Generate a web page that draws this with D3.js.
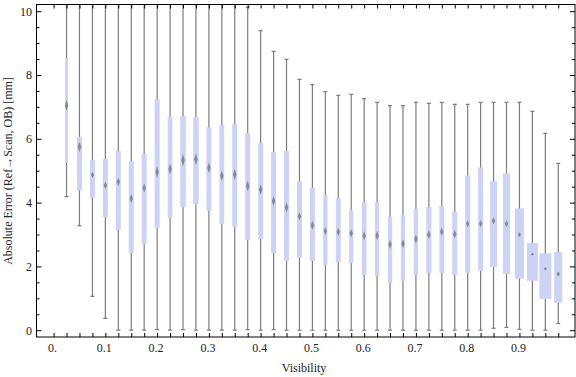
<!DOCTYPE html>
<html>
<head>
<meta charset="utf-8">
<script src="https://cdn.jsdelivr.net/npm/d3@7"></script>
<style>
  body { margin: 0; background: #fff; }
  svg { display: block; }
  .axis text { font-family: "Liberation Serif", "Times New Roman", serif; font-size: 12px; fill: #222; }
  .axis line { stroke: #000; }
  .axis-labels { font-family: "Liberation Serif", "Times New Roman", serif; font-size: 12px; fill: #222; }
</style>
</head>
<body>
<svg width="576" height="377"></svg>
<script>
// data
const visibility = [0.025, 0.05, 0.075, 0.1, 0.125, 0.15, 0.175, 0.2, 0.225, 0.25,
                    0.275, 0.3, 0.325, 0.35, 0.375, 0.4, 0.425, 0.45, 0.475, 0.5,
                    0.525, 0.55, 0.575, 0.6, 0.625, 0.65, 0.675, 0.7, 0.725, 0.75,
                    0.775, 0.8, 0.825, 0.85, 0.875, 0.9, 0.925, 0.95, 0.975];
const whiskerLo = [4.19, 3.28, 1.06, 0.37, 0, 0, 0, 0.02, 0, 0.02,
                   0, 0, 0, 0, 0.02, 0, 0.02, 0, 0, 0,
                   0, 0, 0, 0, 0, 0, 0, 0, 0, 0,
                   0, 0, 0, 0.06, 0.09, 0.03, 0, 0, 0.21];
const q1 = [5.24, 4.38, 4.15, 3.55, 3.14, 2.42, 2.70, 3.21, 3.52, 3.86,
            3.95, 3.74, 3.33, 3.24, 2.83, 2.86, 2.42, 2.18, 2.27, 2.17,
            2.05, 2.13, 2.10, 1.73, 1.70, 1.48, 1.55, 1.73, 1.80, 1.80,
            1.73, 1.80, 1.86, 1.98, 1.76, 1.61, 1.55, 0.98, 0.86];
const median = [7.05, 5.75, 4.87, 4.54, 4.65, 4.13, 4.46, 4.96, 5.05, 5.33,
                5.36, 5.09, 4.84, 4.88, 4.52, 4.41, 4.05, 3.85, 3.57, 3.29,
                3.11, 3.08, 3.04, 2.96, 2.97, 2.69, 2.71, 2.86, 2.99, 3.09,
                3.01, 3.34, 3.34, 3.43, 3.34, 2.99, 2.38, 1.92, 1.76];
const q3 = [8.53, 6.06, 5.33, 5.36, 5.61, 5.30, 5.52, 7.24, 6.70, 6.71,
            6.68, 6.36, 6.43, 6.46, 6.18, 5.86, 5.58, 5.61, 4.67, 4.47,
            4.23, 4.14, 3.76, 4.01, 4.01, 3.56, 3.60, 3.80, 3.86, 3.89,
            3.70, 4.85, 5.10, 4.67, 4.92, 3.82, 2.73, 2.41, 2.45];
const whiskerHi = [10.6, 10.6, 10.6, 10.6, 10.6, 10.6, 10.24, 10.6, 10.6, 10.6,
                   10.6, 10.6, 10.6, 10.6, 10.13, 9.39, 8.74, 8.49, 7.86, 7.70,
                   7.48, 7.36, 7.39, 7.26, 7.14, 7.04, 7.04, 7.14, 7.11, 7.14,
                   7.08, 7.08, 7.14, 7.14, 7.14, 7.14, 6.86, 6.17, 5.23];
// median confidence half-range (diamond marker)
const medianCI = [0.17, 0.16, 0.09, 0.11, 0.13, 0.14, 0.14, 0.17, 0.17, 0.19,
                  0.19, 0.17, 0.16, 0.17, 0.17, 0.16, 0.16, 0.16, 0.13, 0.14,
                  0.13, 0.13, 0.13, 0.14, 0.14, 0.14, 0.14, 0.14, 0.14, 0.14,
                  0.13, 0.11, 0.11, 0.11, 0.11, 0.08, 0.05, 0.05, 0.08];
// relative sample weight (box width)
const boxWeight = [0.6, 1, 1, 1, 1, 1, 1, 1, 0.95, 1.1,
                   1.1, 1, 0.95, 1, 1, 1, 1, 1, 1, 1,
                   0.85, 1, 0.85, 0.95, 0.85, 0.85, 0.85, 0.85, 1, 1,
                   1, 1, 1, 1.4, 1.4, 1.8, 2.2, 2.4, 1.6];

const yMajor = [0, 2, 4, 6, 8, 10];
const yMinor = [0.5, 1, 1.5, 2.5, 3, 3.5, 4.5, 5, 5.5, 6.5, 7, 7.5, 8.5, 9, 9.5];
const xTicks = [0, 0.025, 0.05, 0.075, 0.1, 0.125, 0.15, 0.175, 0.2, 0.225,
                0.25, 0.275, 0.3, 0.325, 0.35, 0.375, 0.4, 0.425, 0.45, 0.475,
                0.5, 0.525, 0.55, 0.575, 0.6, 0.625, 0.65, 0.675, 0.7, 0.725,
                0.75, 0.775, 0.8, 0.825, 0.85, 0.875, 0.9, 0.925, 0.95, 0.975];
const xLabels = {"0": "0.", "0.1": "0.1", "0.2": "0.2", "0.3": "0.3", "0.4": "0.4",
                 "0.5": "0.5", "0.6": "0.6", "0.7": "0.7", "0.8": "0.8", "0.9": "0.9"};

const data = visibility.map((v, i) => ({
    vis: v, lo: whiskerLo[i], q1: q1[i], med: median[i], q3: q3[i],
    hi: whiskerHi[i], ci: medianCI[i], w: boxWeight[i]
}));

// layout
const fLeft = 36.5, fRight = 575, fTop = 4.5, fBottom = 337;

const x = d3.scaleLinear().domain([0, 1]).range([53.6, 571.2]);
const y = d3.scaleLinear().domain([0, 10]).range([330.2, 11.2]);
const wScale = d3.scaleLinear().domain([0, 1]).range([0, 5]);

const svg = d3.select("svg");

svg.append("defs").append("clipPath")
    .attr("id", "plotclip")
    .append("rect")
    .attr("x", fLeft).attr("y", fTop)
    .attr("width", fRight - fLeft).attr("height", fBottom - fTop);

const plot = svg.append("g").attr("clip-path", "url(#plotclip)");

// whiskers
plot.selectAll(".whisker")
    .data(data)
    .join("line")
    .attr("class", "whisker")
    .attr("x1", d => x(d.vis)).attr("x2", d => x(d.vis))
    .attr("y1", d => y(d.lo)).attr("y2", d => y(d.hi))
    .attr("stroke", "#7d7d7d")
    .attr("stroke-width", 1.2);

// caps
["lo", "hi"].forEach(k => {
    plot.selectAll(".cap-" + k)
        .data(data)
        .join("line")
        .attr("class", "cap-" + k)
        .attr("x1", d => x(d.vis) - 2).attr("x2", d => x(d.vis) + 2)
        .attr("y1", d => y(d[k])).attr("y2", d => y(d[k]))
        .attr("stroke", "#7d7d7d")
        .attr("stroke-width", 1.2);
});

// boxes
plot.selectAll(".box")
    .data(data)
    .join("rect")
    .attr("class", "box")
    .attr("x", d => x(d.vis) - wScale(d.w) / 2)
    .attr("width", d => wScale(d.w))
    .attr("y", d => y(d.q3))
    .attr("height", d => y(d.q1) - y(d.q3))
    .attr("fill", "#ccd3f5");

// median markers
plot.selectAll(".med")
    .data(data)
    .join("path")
    .attr("class", "med")
    .attr("d", d => {
        const cx = x(d.vis);
        return "M" + cx + "," + y(d.med + d.ci) +
               "L" + (cx + 1.7) + "," + y(d.med) +
               "L" + cx + "," + y(d.med - d.ci) +
               "L" + (cx - 1.7) + "," + y(d.med) + "Z";
    })
    .attr("fill", "#707070")
    .attr("opacity", 0.75);

// axes
function clean(g) { g.select(".domain").remove(); }

svg.append("g")
    .attr("class", "axis")
    .attr("transform", "translate(0," + fBottom + ")")
    .call(d3.axisBottom(x).tickValues(xTicks).tickSize(-4).tickPadding(6)
        .tickFormat(d => xLabels[String(+d.toFixed(3))] || ""))
    .call(clean)
    .selectAll("text").attr("dx", "-1.5");

svg.append("g")
    .attr("class", "axis")
    .attr("transform", "translate(0," + fTop + ")")
    .call(d3.axisTop(x).tickValues(xTicks).tickSize(-4).tickFormat(""))
    .call(clean);

svg.append("g")
    .attr("class", "axis")
    .attr("transform", "translate(" + fLeft + ",0)")
    .call(d3.axisLeft(y).tickValues(yMajor).tickSize(-5).tickPadding(4.5).tickFormat(d3.format("d")))
    .call(clean);

svg.append("g")
    .attr("class", "axis")
    .attr("transform", "translate(" + fLeft + ",0)")
    .call(d3.axisLeft(y).tickValues(yMinor).tickSize(-3).tickFormat(""))
    .call(clean);

svg.append("g")
    .attr("class", "axis")
    .attr("transform", "translate(" + fRight + ",0)")
    .call(d3.axisRight(y).tickValues(yMajor).tickSize(-5).tickFormat(""))
    .call(clean);

svg.append("g")
    .attr("class", "axis")
    .attr("transform", "translate(" + fRight + ",0)")
    .call(d3.axisRight(y).tickValues(yMinor).tickSize(-3).tickFormat(""))
    .call(clean);

// frame
svg.append("rect")
    .attr("x", fLeft).attr("y", fTop)
    .attr("width", fRight - fLeft).attr("height", fBottom - fTop)
    .attr("fill", "none")
    .attr("stroke", "#000")
    .attr("stroke-width", 1);

// axis labels
svg.append("text")
    .attr("class", "axis-labels")
    .attr("x", 304)
    .attr("y", 372)
    .attr("text-anchor", "middle")
    .text("Visibility");

svg.append("text")
    .attr("class", "axis-labels")
    .attr("transform", "translate(12,171) rotate(-90)")
    .attr("text-anchor", "middle")
    .text("Absolute Error (Ref\u2192Scan, OB) [mm]");
</script>
</body>
</html>
